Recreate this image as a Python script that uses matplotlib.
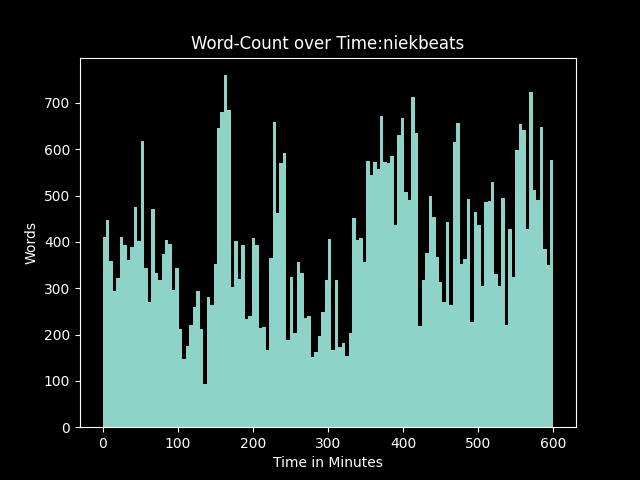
import numpy as np
import matplotlib
matplotlib.use("Agg")
import matplotlib.pyplot as plt

plt.style.use("dark_background")

words = [
    410, 447, 359, 294, 322, 410, 393, 361, 389, 475, 402, 618, 343, 270, 471, 333, 318, 374,
    404, 395, 296, 343, 212, 147, 175, 220, 259, 294, 212, 93, 281, 264, 352, 646, 681, 760, 685,
    302, 402, 320, 393, 233, 240, 408, 393, 214, 216, 166, 365, 659, 462, 570, 592, 188, 324, 203,
    356, 333, 236, 240, 151, 162, 197, 248, 318, 406, 166, 318, 173, 181, 153, 203, 451, 404, 408,
    356, 575, 544, 572, 557, 672, 572, 570, 585, 436, 631, 667, 508, 490, 713, 635, 218, 318,
    376, 499, 453, 367, 313, 270, 443, 264, 616, 657, 352, 363, 493, 227, 465, 436, 305, 486, 488,
    529, 331, 305, 495, 220, 428, 324, 598, 655, 642, 428, 724, 512, 490, 648, 385, 350, 577,
]
t_start = 0
t_end = 600

edges = np.linspace(t_start, t_end, len(words) + 1)
centers = (edges[:-1] + edges[1:]) / 2

fig, ax = plt.subplots(figsize=(6.4, 4.8), dpi=100)
ax.hist(centers, bins=edges, weights=words)
ax.set_title("Word-Count over Time:niekbeats")
ax.set_xlabel("Time in Minutes")
ax.set_ylabel("Words")
fig.savefig("out.png", dpi=100)
